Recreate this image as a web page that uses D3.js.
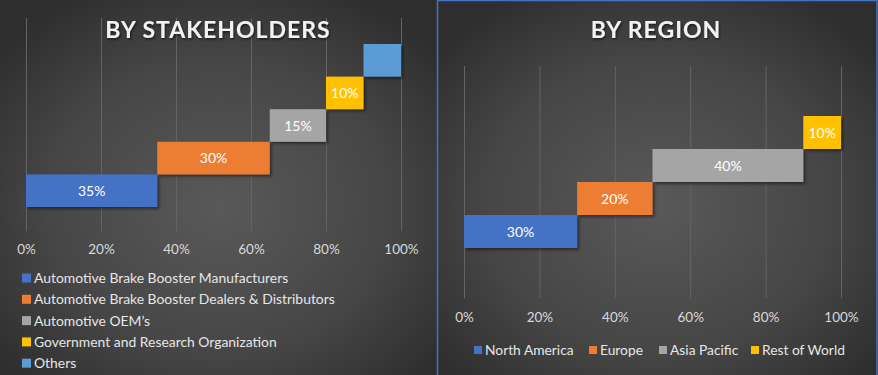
<!DOCTYPE html>
<html><head><meta charset="utf-8">
<script src="https://cdn.jsdelivr.net/npm/d3@7/dist/d3.min.js"></script>
<style>
html,body{margin:0;padding:0;background:#333;}
svg{display:block;font-family:Lato,"Open Sans",sans-serif;}
</style></head>
<body>
<svg id="c" width="878" height="375"></svg>
<script>
// ---- data ----
const stakeholderCats = ["Automotive Brake Booster Manufacturers","Automotive Brake Booster Dealers & Distributors","Automotive OEM\u2019s","Government and Research Organization","Others"];
const stakeholderVals = [35, 30, 15, 10, 10];
const stakeholderShowLabel = [true, true, true, true, false];
const regionCats = ["North America","Europe","Asia Pacific","Rest of World"];
const regionVals = [30, 20, 40, 10];
const regionShowLabel = [true, true, true, true];
const seriesColors = ["#4472c4","#ed7d31","#a5a5a5","#ffc000","#5b9bd5"];
const xTicks = [0, 20, 40, 60, 80, 100];
const titles = ["BY STAKEHOLDERS", "BY REGION"];

const svg = d3.select("#c");
const defs = svg.append("defs");

function radial(id){
  const g = defs.append("radialGradient").attr("id", id).attr("cx","50%").attr("cy","55%").attr("r","65%");
  g.append("stop").attr("offset","0%").attr("stop-color","#595959");
  g.append("stop").attr("offset","60%").attr("stop-color","#464646");
  g.append("stop").attr("offset","100%").attr("stop-color","#2e2e2e");
}
radial("bgL"); radial("bgR");

const sh = defs.append("filter").attr("id","barShadow").attr("x","-10%").attr("y","-10%").attr("width","130%").attr("height","140%");
sh.append("feDropShadow").attr("dx",2).attr("dy",2).attr("stdDeviation",1.5).attr("flood-color","#000").attr("flood-opacity",0.45);
const tsh = defs.append("filter").attr("id","txtShadow").attr("x","-10%").attr("y","-30%").attr("width","120%").attr("height","160%");
tsh.append("feDropShadow").attr("dx",1).attr("dy",1.5).attr("stdDeviation",1).attr("flood-color","#000").attr("flood-opacity",0.6);

// panels
svg.append("rect").attr("x",0).attr("y",0).attr("width",437).attr("height",375).attr("fill","url(#bgL)");
svg.append("rect").attr("x",437).attr("y",0).attr("width",441).attr("height",375).attr("fill","url(#bgR)");

function drawPanel(cfg){
  const g = svg.append("g");
  const x = d3.scaleLinear().domain([0,100]).range([cfg.x0, cfg.x1]);
  const y = d3.scaleBand().domain(cfg.cats).range([cfg.yBot, cfg.yTop]).padding(0);

  // gridlines
  g.selectAll(".grid").data(xTicks).join("line")
    .attr("x1", d=>x(d)+0.5).attr("x2", d=>x(d)+0.5)
    .attr("y1", cfg.gTop).attr("y2", cfg.gBot)
    .attr("stroke","#646464").attr("stroke-width",1);

  // title
  g.append("text").attr("x", cfg.titleX).attr("y", 38).attr("text-anchor","middle")
    .attr("fill","#f2f2f2").attr("font-size",23).attr("font-weight",700)
    .attr("letter-spacing",1).attr("filter","url(#txtShadow)").text(cfg.title);

  // axis labels
  const ax = d3.axisBottom(x).tickValues(xTicks).tickFormat(d=>d+"%").tickSize(0).tickPadding(0);
  const axG = g.append("g").attr("transform",`translate(0,${cfg.axisY})`).call(ax);
  axG.select(".domain").remove();
  axG.selectAll("text").attr("fill","#d9d9d9").attr("font-size",13.5).attr("font-family","Lato,'Open Sans',sans-serif").attr("dy",0);

  // waterfall bars
  const starts = [];
  let acc = 0;
  cfg.vals.forEach(v=>{starts.push(acc); acc+=v;});
  const data = cfg.cats.map((c,i)=>({c, v:cfg.vals[i], s:starts[i], col:seriesColors[i], show:cfg.show[i]}));
  g.selectAll(".bar").data(data).join("rect")
    .attr("x", d=>x(d.s)).attr("width", d=>x(d.s+d.v)-x(d.s))
    .attr("y", d=>y(d.c)).attr("height", y.bandwidth())
    .attr("fill", d=>d.col).attr("filter","url(#barShadow)");
  g.selectAll(".lbl").data(data.filter(d=>d.show)).join("text")
    .attr("x", d=>x(d.s+d.v/2)).attr("y", d=>y(d.c)+y.bandwidth()/2+5)
    .attr("text-anchor","middle").attr("fill","#ffffff").attr("font-size",14)
    .text(d=>d.v+"%");
  return g;
}

drawPanel({title:titles[0], titleX:218, cats:stakeholderCats, vals:stakeholderVals, show:stakeholderShowLabel,
  x0:26, x1:401, yBot:207, yTop:44, gTop:18, gBot:231, axisY:254});
drawPanel({title:titles[1], titleX:656, cats:regionCats, vals:regionVals, show:regionShowLabel,
  x0:464, x1:841, yBot:248, yTop:116, gTop:66, gBot:298, axisY:322});

// left legend (vertical)
const legL = svg.append("g");
stakeholderCats.forEach((c,i)=>{
  const yy = 278 + i*21.3;
  legL.append("rect").attr("x",22).attr("y",yy-4.5).attr("width",9).attr("height",9).attr("fill",seriesColors[i]);
  legL.append("text").attr("x",34).attr("y",yy+5).attr("fill","#e6e6e6").attr("font-size",13.9).text(c);
});

// right legend (horizontal)
const legR = svg.append("g");
const legRX = [474, 589, 659, 751];
regionCats.forEach((c,i)=>{
  legR.append("rect").attr("x",legRX[i]).attr("y",346).attr("width",8).attr("height",8).attr("fill",seriesColors[i]);
  legR.append("text").attr("x",legRX[i]+11).attr("y",355).attr("fill","#e6e6e6").attr("font-size",13.8).text(c);
});

// right panel border
svg.append("rect").attr("x",437.5).attr("y",0.5).attr("width",439.5).attr("height",380)
  .attr("fill","none").attr("stroke","#4472c4").attr("stroke-width",1.5);
</script>
</body></html>
